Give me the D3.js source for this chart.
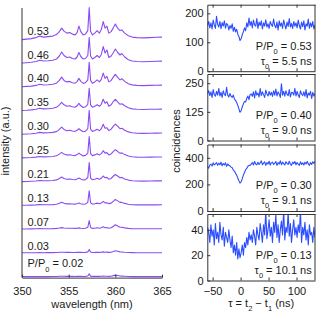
<!DOCTYPE html>
<html>
<head>
<meta charset="utf-8">
<script src="https://cdn.jsdelivr.net/npm/d3@7"></script>
<style>
  body { margin: 0; background: #fff; }
  text { font-family: "Liberation Sans", Arial, sans-serif; font-size: 11px; fill: #1a1a1a; }
  .axis path, .axis line { stroke: #333; }
</style>
</head>
<body>
<div id="chart"></div>
<script>
// ---- data: PL spectra (left) ----
const wavelength = [350, 350.5, 351, 351.5, 351.9, 352.3, 352.8, 353.3, 353.7, 354.0,
  354.25, 354.5, 354.8, 355.1, 355.4, 355.7, 355.9, 356.1, 356.3, 356.55,
  356.8, 357.05, 357.2, 357.35, 357.55, 357.8, 358.05, 358.3, 358.5, 358.7,
  358.9, 359.1, 359.3, 359.55, 359.8, 360.0, 360.25, 360.5, 360.7, 361.0,
  361.4, 361.8, 362.3, 363, 363.7, 364.4, 365];

const powers = ['0.02', '0.03', '0.07', '0.13', '0.21', '0.25', '0.30', '0.35', '0.40', '0.46', '0.53'];

const spec002 = [0, 0, 0, 0, 0.1, 0, 0, 0.1, 0.1, 0.3, 0.4, 0.3, 0.2, 0.2, 0.2, 0.1, 0.2, 0.3, 0.2, 0.1, 0.2, 0.6, 2.7, 0.5, 0.2, 0.2, 0.4, 0.2, 0.4, 0.6, 0.4, 0.4, 0.2, 0.4, 1, 1.5, 1.1, 0.6, 0.5, 0.3, 0.1, 0, 0, 0, 0, 0, 0];
const spec003 = [-0.1, -0.1, 0, 0, 0.1, 0, 0.1, 0.1, 0.2, 0.4, 0.5, 0.4, 0.3, 0.3, 0.2, 0.2, 0.3, 0.4, 0.3, 0.2, 0.3, 0.8, 3.3, 0.7, 0.2, 0.3, 0.5, 0.3, 0.5, 0.8, 0.5, 0.6, 0.3, 0.5, 1.3, 2, 1.4, 0.8, 0.7, 0.4, 0.2, 0.1, 0, 0, 0, 0, 0];
const spec007 = [-0.2, -0.2, -0.1, 0, 0.2, 0.1, 0.1, 0.2, 0.4, 0.8, 1.2, 0.8, 0.5, 0.6, 0.5, 0.4, 0.6, 0.9, 0.6, 0.3, 0.5, 1.5, 8.3, 1.3, 0.4, 0.6, 1, 0.6, 1, 2, 1.1, 1.2, 0.6, 1, 2.6, 4, 2.8, 1.6, 1.5, 0.9, 0.4, 0.1, 0, 0, 0, 0, 0];
const spec013 = [-0.4, -0.3, -0.2, 0, 0.3, 0.1, 0.2, 0.3, 0.7, 1.6, 2.7, 1.6, 1, 1.2, 0.9, 0.8, 1.2, 1.8, 1.2, 0.6, 0.9, 2.5, 14, 2.2, 0.8, 1.1, 1.8, 1.1, 1.8, 3.5, 2, 2.2, 1.1, 1.8, 3.8, 5.5, 4, 2.5, 2.5, 1.5, 0.6, 0.2, 0, 0, 0, 0, 0.1];
const spec021 = [-0.6, -0.5, -0.3, 0, 0.5, 0.2, 0.3, 0.5, 1.1, 2.5, 4, 2.5, 1.7, 2, 1.5, 1.2, 2, 3, 2, 1, 1.4, 3.5, 18.5, 3, 1.2, 1.8, 2.8, 1.8, 2.8, 5, 3.2, 3.6, 1.8, 2.6, 5, 6.5, 5, 3.2, 3.6, 2.1, 0.9, 0.3, 0, -0.1, 0, 0.1, 0.1];
const spec025 = [-0.8, -0.6, -0.4, 0, 0.6, 0.2, 0.4, 0.6, 1.3, 3, 4.7, 3, 2, 2.4, 1.8, 1.5, 2.5, 4, 2.5, 1.2, 1.7, 4, 20.5, 3.5, 1.5, 2.2, 3.3, 2.2, 3.5, 6.4, 4, 4.5, 2.2, 3.2, 5.8, 7.4, 5.8, 3.8, 4.2, 2.5, 1.1, 0.3, 0, -0.1, 0, 0.1, 0.1];
const spec030 = [-1, -0.8, -0.5, 0, 0.8, 0.3, 0.5, 0.8, 1.6, 3.8, 6, 3.8, 2.5, 3, 2.2, 1.8, 3, 4.5, 3, 1.5, 2, 4.5, 23, 4, 1.8, 2.7, 4, 2.6, 4.5, 9, 5, 5.5, 2.6, 4, 7, 9, 7, 4.5, 5, 3, 1.3, 0.4, 0, -0.2, 0, 0.1, 0.2];
const spec035 = [-1.2, -1, -0.6, 0, 1, 0.4, 0.6, 1, 2, 4.5, 7, 4.5, 3, 3.5, 2.5, 2, 3.5, 6, 3.5, 1.8, 2.5, 5, 21, 4.5, 2, 3, 4.5, 3, 5, 10, 6, 7.5, 3, 4.5, 8, 10, 7.5, 5, 5.5, 3.5, 1.5, 0.4, 0, -0.2, 0, 0.1, 0.2];
const spec040 = [-1.3, -1, -0.7, 0, 1.2, 0.4, 0.7, 1.2, 2.2, 5, 8.3, 5, 3.5, 4, 2.7, 2.2, 3.8, 7, 4, 2, 2.7, 5.5, 23, 5, 2.2, 3.5, 5.5, 3.5, 6, 12.3, 7, 9, 3.5, 5, 8.5, 11, 8, 5.5, 6.7, 4, 1.6, 0.5, 0, -0.2, 0, 0.2, 0.3];
const spec046 = [-1.5, -1.2, -0.8, 0, 1.3, 0.5, 0.8, 1.3, 2.5, 5.5, 9.5, 6, 4, 4.5, 3, 2.5, 4.5, 9, 5, 2.5, 3, 6, 24, 5.5, 2.5, 4, 6, 4, 7, 15, 8.5, 11.5, 4, 5.5, 9, 12.5, 9, 6.5, 8, 4.5, 1.8, 0.5, 0, -0.3, 0, 0.2, 0.4];
const spec053 = [-2, -1.5, -1, 0, 1.5, 0.5, 1, 1.5, 3, 6, 9.5, 6.5, 4.5, 5, 3.5, 2.7, 5, 11.5, 6, 2.7, 3.5, 7, 30, 6, 2.7, 4.5, 7, 4.5, 8, 16, 9.5, 11.5, 4.5, 6, 10, 13.5, 9.5, 7, 7.7, 4.5, 1.8, 0.5, 0, -0.3, 0, 0.3, 0.5];

const spectra = [spec002, spec003, spec007, spec013, spec021, spec025, spec030, spec035, spec040, spec046, spec053];
const waveTicks = [350, 355, 360, 365];

// ---- data: coincidence histograms (right) ----
const tau = d3.range(-59, 134, 2); // bin centres, ns
const g2Powers = ['0.53', '0.40', '0.30', '0.13'];
const g2Tau0 = ['5.5', '9.0', '9.1', '10.1'];
const g2Max = [230, 290, 500, 52.5];
const g2Ticks = [[0, 100, 200], [0, 125, 250], [0, 200, 400], [0, 20, 40]];
const tauTicks = [-50, 0, 50, 100];

const g2a = [158, 172, 150, 167, 146, 177, 160, 148, 190, 162, 153, 172, 147, 168, 156, 174, 149, 165, 160, 143,
  158, 148, 164, 138, 152, 136, 145, 128, 120, 106,
  112, 126, 137, 150, 140, 167, 153, 184, 158, 172,
  150, 177, 160, 156, 182, 148, 170, 158, 174, 146, 167, 156, 178, 153, 164, 148, 172, 161, 155, 180,
  158, 150, 170, 143, 174, 156, 167, 148, 177, 160, 146, 170, 155, 182, 153, 165, 148, 172, 156, 167,
  150, 177, 158, 146, 170, 154, 174, 143, 164, 156, 180, 148, 167, 153, 172, 146, 160];
const g2b = [205, 217, 196, 212, 188, 222, 200, 193, 214, 198, 227, 194, 210, 188, 217, 201, 196, 232, 198, 190,
  205, 193, 188, 198, 180, 175, 166, 153, 138, 123,
  130, 146, 160, 170, 168, 183, 194, 178, 200, 203,
  193, 212, 186, 217, 198, 207, 190, 227, 196, 212, 200, 188, 220, 203, 194, 214, 198, 210, 192, 217,
  198, 224, 194, 212, 203, 188, 247, 198, 214, 193, 217, 202, 196, 222, 190, 210, 208, 198, 227, 194,
  214, 198, 188, 217, 203, 196, 212, 193, 222, 186, 207, 198, 214, 183, 210, 194, 205];
const g2c = [335, 322, 347, 352, 338, 362, 346, 355, 364, 343, 360, 348, 367, 340, 357, 346, 362, 336, 354, 343,
  340, 330, 325, 308, 300, 283, 270, 248, 228, 210,
  220, 243, 270, 290, 310, 320, 337, 343, 342, 353,
  364, 346, 372, 353, 347, 367, 350, 362, 377, 348, 360, 370, 343, 364, 353, 374, 346, 362, 367, 350,
  360, 372, 343, 364, 353, 377, 348, 367, 356, 346, 370, 358, 350, 374, 353, 343, 367, 356, 372, 348,
  364, 353, 343, 370, 350, 362, 346, 367, 353, 372, 356, 343, 364, 350, 370, 358, 374];
const g2d = [42, 38, 30, 44, 35, 40, 28, 45, 33, 38, 30, 46, 36, 32, 42, 27, 38, 34, 30, 40,
  32, 26, 35, 22, 28, 20, 30, 17, 25, 18,
  22, 28, 20, 30, 26, 34, 28, 38, 32, 36,
  30, 40, 35, 28, 42, 36, 32, 45, 38, 30, 44, 36, 55, 33, 40, 48, 35, 42, 30, 46,
  38, 52, 34, 44, 30, 40, 47, 36, 56, 32, 42, 38, 54, 35, 45, 30, 40, 48, 36, 42,
  34, 44, 38, 55, 30, 42, 36, 46, 32, 40, 28, 44, 36, 38, 30, 42, 34];
const g2Counts = [g2a, g2b, g2c, g2d];

// ---- layout ----
const W = 321, H = 320;
const specColor = '#8a4cf2';
const g2Color = '#2b4dff';
const offsetStep = 23.9; // a.u. between stacked spectra

const svg = d3.select('#chart').append('svg')
  .attr('width', W).attr('height', H);

// adds "main<sub>sub</sub>rest" as tspans
function subText(t, main, sub, rest, shift) {
  t.append('tspan').text(main);
  t.append('tspan').attr('font-size', '7.5px').attr('dy', shift).text(sub);
  t.append('tspan').attr('dy', -shift).text(rest);
  return t;
}

// left panel: stacked spectra
const xw = d3.scaleLinear().domain([350, 365]).range([22, 162]);
const yi = d3.scaleLinear().domain([0, 269.6]).range([277.6, 8]);

const specLine = (k) => d3.line()
  .x((d, i) => xw(wavelength[i]))
  .y(d => yi(1 + k * offsetStep + d));

const left = svg.append('g');
spectra.forEach((s, k) => {
  left.append('path')
    .attr('d', specLine(k)(s))
    .attr('fill', 'none')
    .attr('stroke', specColor)
    .attr('stroke-width', 1.1)
    .attr('stroke-linejoin', 'round');
});

// power labels above each trace
powers.forEach((p, k) => {
  const yb = yi(1 + k * offsetStep);
  if (k === 0) {
    subText(left.append('text').attr('x', 27.5).attr('y', yb - 10), 'P/P', '0', ' = ' + p, 5);
  } else {
    left.append('text').attr('x', 27.5).attr('y', yb - 3).text(p);
  }
});

left.append('g')
  .attr('class', 'axis')
  .attr('transform', `translate(0, ${yi(0)})`)
  .call(d3.axisBottom(xw).tickValues(waveTicks).tickSize(-3).tickSizeOuter(0).tickPadding(9.5))
  .call(g => g.selectAll('text').style('font-size', '11px').style('font-family', null));

left.append('line')
  .attr('x1', xw(350)).attr('x2', xw(350))
  .attr('y1', yi.range()[1]).attr('y2', yi.range()[0])
  .attr('stroke', '#333');

left.append('text')
  .attr('x', xw(357.5)).attr('y', 308)
  .attr('text-anchor', 'middle')
  .text('wavelength (nm)');

left.append('text')
  .attr('transform', 'translate(9, 141) rotate(-90)')
  .attr('text-anchor', 'middle')
  .text('intensity (a.u.)');

// right panels: coincidence histograms
const xt = d3.scaleLinear().domain([-59.5, 133]).range([207.3, 315]);
const panelTop = [4.7, 74, 144.5, 214];
const panelH = 66.5;

g2Counts.forEach((counts, p) => {
  const top = panelTop[p], bottom = top + panelH;
  const y = d3.scaleLinear().domain([0, g2Max[p]]).range([bottom, top]);
  const g = svg.append('g');

  g.append('clipPath').attr('id', 'clip' + p)
    .append('rect')
    .attr('x', xt.range()[0]).attr('y', top)
    .attr('width', xt.range()[1] - xt.range()[0]).attr('height', panelH);

  g.append('path')
    .attr('clip-path', `url(#clip${p})`)
    .attr('d', d3.line().x((d, i) => xt(tau[i])).y(d => y(d))(counts))
    .attr('fill', 'none')
    .attr('stroke', g2Color)
    .attr('stroke-width', 1.1)
    .attr('stroke-linejoin', 'round');

  // box; inward ticks on left, top and bottom
  g.append('g').attr('class', 'axis')
    .attr('transform', `translate(${xt.range()[0]}, 0)`)
    .call(d3.axisLeft(y).tickValues(g2Ticks[p]).tickSize(-3).tickSizeOuter(0).tickPadding(3.8))
    .call(a => a.selectAll('text').style('font-size', '11px').style('font-family', null));
  g.append('line')
    .attr('x1', xt.range()[1]).attr('x2', xt.range()[1])
    .attr('y1', top).attr('y2', bottom)
    .attr('stroke', '#333');
  g.append('g').attr('class', 'axis')
    .attr('transform', `translate(0, ${top})`)
    .call(d3.axisTop(xt).tickValues(tauTicks).tickSize(-3).tickSizeOuter(0).tickFormat(''));
  const bx = g.append('g').attr('class', 'axis')
    .attr('transform', `translate(0, ${bottom})`);
  if (p === 3) {
    bx.call(d3.axisBottom(xt).tickValues(tauTicks).tickSize(-3).tickSizeOuter(0).tickPadding(6.5)
      .tickFormat(d => d < 0 ? '\u2212' + Math.abs(d) : d))
      .call(a => a.selectAll('text').style('font-size', '11px').style('font-family', null));
  } else {
    bx.call(d3.axisBottom(xt).tickValues(tauTicks).tickSize(-3).tickSizeOuter(0).tickFormat(''));
  }

  // annotations
  subText(g.append('text').attr('x', 311.7).attr('y', bottom - 21.6).attr('text-anchor', 'end'),
    'P/P', '0', ' = ' + g2Powers[p], 4);
  subText(g.append('text').attr('x', 311.7).attr('y', bottom - 6.7).attr('text-anchor', 'end'),
    '\u03c4', '0', ' = ' + g2Tau0[p] + ' ns', 4);
});

const xl = svg.append('text')
  .attr('x', (xt.range()[0] + xt.range()[1]) / 2).attr('y', 307)
  .attr('text-anchor', 'middle');
xl.append('tspan').text('\u03c4 = t');
xl.append('tspan').attr('font-size', '7.5px').attr('dy', 4).text('2');
xl.append('tspan').attr('dy', -4).text(' \u2212 t');
xl.append('tspan').attr('font-size', '7.5px').attr('dy', 4).text('1');
xl.append('tspan').attr('dy', -4).text(' (ns)');

svg.append('text')
  .attr('transform', 'translate(179.5, 141) rotate(-90)')
  .attr('text-anchor', 'middle')
  .text('coincidences');
</script>
</body>
</html>
